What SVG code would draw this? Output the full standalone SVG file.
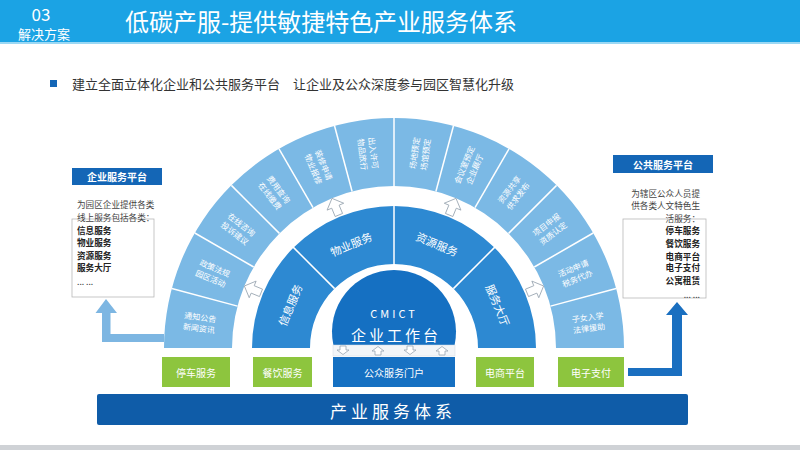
<svg xmlns="http://www.w3.org/2000/svg" width="800" height="450" viewBox="0 0 800 450">
<style>
text{font-family:"Noto Sans CJK SC","Noto Sans",sans-serif;}
.hd{fill:#fff;}
.seg{fill:#fff;font-size:8px;text-anchor:middle;dominant-baseline:central;}
.mid{fill:#fff;font-size:11px;text-anchor:middle;dominant-baseline:central;}
.div{stroke:#fff;stroke-width:1.5;}
.green{fill:#8dc53e;}
.gt{fill:#fff;font-size:10px;text-anchor:middle;dominant-baseline:central;}
.hollow{fill:#fff;stroke:#9aa6b2;stroke-width:0.8;}
.ltxt{font-size:8.6px;fill:#444;}
.lb{font-size:8.6px;fill:#222;font-weight:bold;}
.box{fill:#fff;stroke:#b8b8b8;stroke-width:0.8;}
.bh{fill:#1466b6;}
.bht{fill:#fff;font-size:10px;font-weight:bold;text-anchor:middle;dominant-baseline:central;}
</style>
<defs>
<polygon id="bigArrow" points="0,-10 9,-1 4,-1 4,8 -4,8 -4,-1 -9,-1"/>
<polygon id="smallUp" points="0,-4 6,0.5 3,0.5 3,4.5 -3,4.5 -3,0.5 -6,0.5"/>
</defs>

<!-- header -->
<g id="header">
<rect x="0" y="0" width="800" height="42" fill="#1ba3e4"/>
<rect x="0" y="42" width="800" height="2" fill="#9bd8f4"/>
<text x="41" y="21" class="hd" font-size="17" text-anchor="middle" font-family="Liberation Sans, sans-serif">03</text>
<text x="44" y="39" class="hd" font-size="13" text-anchor="middle">解决方案</text>
<text x="125" y="31" class="hd" font-size="24" textLength="392" lengthAdjust="spacingAndGlyphs">低碳产服-提供敏捷特色产业服务体系</text>
</g>

<g id="subtitle">
<rect x="50" y="80" width="7" height="7" fill="#1466b6"/>
<text x="72" y="89" font-size="13" fill="#333">建立全面立体化企业和公共服务平台　让企业及公众深度参与园区智慧化升级</text>
</g>

<!-- outer ring -->
<g id="outer-ring">
<path d="M164,348 A230,230 0 0 1 624,348 L556,348 A162,162 0 0 0 232,348 Z" fill="#7bb9e5"/>
<g class="div">
<line x1="550.5" y1="306.1" x2="616.2" y2="288.5"/>
<line x1="534.3" y1="267" x2="593.2" y2="233"/>
<line x1="508.6" y1="233.4" x2="556.6" y2="185.4"/>
<line x1="475" y1="207.7" x2="509" y2="148.8"/>
<line x1="435.9" y1="191.5" x2="453.5" y2="125.8"/>
<line x1="394" y1="186" x2="394" y2="118"/>
<line x1="352.1" y1="191.5" x2="334.5" y2="125.8"/>
<line x1="313" y1="207.7" x2="279" y2="148.8"/>
<line x1="279.4" y1="233.4" x2="231.4" y2="185.4"/>
<line x1="253.7" y1="267" x2="194.8" y2="233"/>
<line x1="237.5" y1="306.1" x2="171.8" y2="288.5"/>
</g>
<g id="seg1" transform="translate(199.7,322.4) rotate(7.5)"><text class="seg" y="-5.5">通知公告</text><text class="seg" y="5.5">新闻资讯</text></g>
<g id="seg2" transform="translate(212.9,273) rotate(22.5)"><text class="seg" y="-5.5">政策法规</text><text class="seg" y="5.5">园区活动</text></g>
<g id="seg3" transform="translate(238.5,228.7) rotate(37.5)"><text class="seg" y="-5.5">在线咨询</text><text class="seg" y="5.5">投诉建议</text></g>
<g id="seg4" transform="translate(274.7,192.5) rotate(52.5)"><text class="seg" y="-5.5">费用查询</text><text class="seg" y="5.5">在线缴费</text></g>
<g id="seg5" transform="translate(319,166.9) rotate(67.5)"><text class="seg" y="-5.5">装修申请</text><text class="seg" y="5.5">物业报修</text></g>
<g id="seg6" transform="translate(368.4,153.7) rotate(82.5)"><text class="seg" y="-5.5">出入许可</text><text class="seg" y="5.5">物品放行</text></g>
<g id="seg7" transform="translate(419.6,153.7) rotate(-82.5)"><text class="seg" y="-5.5">场地预定</text><text class="seg" y="5.5">场馆预定</text></g>
<g id="seg8" transform="translate(469,166.9) rotate(-67.5)"><text class="seg" y="-5.5">会议室预定</text><text class="seg" y="5.5">企业展厅</text></g>
<g id="seg9" transform="translate(513.3,192.5) rotate(-52.5)"><text class="seg" y="-5.5">资源共享</text><text class="seg" y="5.5">供求发布</text></g>
<g id="seg10" transform="translate(549.5,228.7) rotate(-37.5)"><text class="seg" y="-5.5">项目申报</text><text class="seg" y="5.5">资质认定</text></g>
<g id="seg11" transform="translate(575.1,273) rotate(-22.5)"><text class="seg" y="-5.5">活动申请</text><text class="seg" y="5.5">税务代办</text></g>
<g id="seg12" transform="translate(588.3,322.4) rotate(-7.5)"><text class="seg" y="-5.5">子女入学</text><text class="seg" y="5.5">法律援助</text></g>
</g>

<!-- middle ring -->
<g id="middle-ring">
<path d="M252,348 A142,142 0 0 1 536,348 L478,348 A84,84 0 0 0 310,348 Z" fill="#2d89d2"/>
<g class="div">
<line x1="453.4" y1="288.6" x2="495.1" y2="246.9"/>
<line x1="394" y1="264" x2="394" y2="205"/>
<line x1="334.6" y1="288.6" x2="292.9" y2="246.9"/>
</g>
<text class="mid" transform="translate(289.6,304.8) rotate(-67.5)">信息服务</text>
<text class="mid" transform="translate(350.8,243.6) rotate(-22.5)">物业服务</text>
<text class="mid" transform="translate(437.2,243.6) rotate(22.5)">资源服务</text>
<text class="mid" transform="translate(498.4,304.8) rotate(67.5)">服务大厅</text>
</g>

<!-- center -->
<g id="cmict">
<path d="M333.4,345 A62,62 0 1 1 454.6,345 Z" fill="#1570c2"/>
<text x="394" y="318" fill="#fff" font-size="11" text-anchor="middle" letter-spacing="3" font-family="Liberation Sans, sans-serif">CMICT</text>
<text x="396" y="341" fill="#fff" font-size="15" text-anchor="middle" letter-spacing="3">企业工作台</text>
</g>

<g id="portal">
<rect x="333" y="345" width="122" height="11" fill="#f2f5f8" stroke="#d3dae1" stroke-width="0.5"/>
<rect x="333" y="357" width="122" height="30" fill="#1570c2"/>
<text x="394" y="372" class="gt">公众服务门户</text>
</g>

<g id="tingche"><rect x="162" y="357" width="68" height="30" class="green"/><text x="196" y="372" class="gt">停车服务</text></g>
<g id="canyin"><rect x="253" y="357" width="59" height="30" class="green"/><text x="282.5" y="372" class="gt">餐饮服务</text></g>
<g id="dianshang"><rect x="476" y="357" width="58" height="30" class="green"/><text x="505" y="372" class="gt">电商平台</text></g>
<g id="zhifu"><rect x="558" y="357" width="66" height="30" class="green"/><text x="591" y="372" class="gt">电子支付</text></g>

<g id="base">
<rect x="97" y="394" width="591" height="31" rx="2" fill="#0f5ca8"/>
<text x="393" y="410" fill="#fff" font-size="17" text-anchor="middle" dominant-baseline="central" letter-spacing="4">产业服务体系</text>
</g>

<!-- left platform -->
<g id="enterprise-platform">
<rect x="72" y="168" width="90" height="17" class="bh"/>
<text x="117" y="176.5" class="bht">企业服务平台</text>
<rect x="72" y="219" width="82" height="78" class="box"/>
<text x="77" y="208" class="ltxt">为园区企业提供各类</text>
<text x="77" y="221" class="ltxt">线上服务包括各类：</text>
<text x="77" y="234" class="lb">信息服务</text>
<text x="77" y="246" class="lb">物业服务</text>
<text x="77" y="259" class="lb">资源服务</text>
<text x="77" y="271" class="lb">服务大厅</text>
<text x="77" y="285" class="ltxt">... ...</text>
</g>

<!-- right platform -->
<g id="public-platform">
<rect x="613" y="155" width="100" height="18" class="bh"/>
<text x="663" y="164" class="bht">公共服务平台</text>
<rect x="623" y="219" width="83" height="79" class="box"/>
<g text-anchor="end">
<text x="700" y="197" class="ltxt">为辖区公众人员提</text>
<text x="700" y="209" class="ltxt">供各类人文特色生</text>
<text x="700" y="222" class="ltxt">活服务：</text>
<text x="700" y="234" class="lb">停车服务</text>
<text x="700" y="247" class="lb">餐饮服务</text>
<text x="700" y="260" class="lb">电商平台</text>
<text x="700" y="271" class="lb">电子支付</text>
<text x="700" y="284" class="lb">公寓租赁</text>
<text x="700" y="298" class="ltxt">... ...</text>
</g>
</g>

<!-- connectors -->
<g id="connectors">
<polygon points="106,299 117,313 110.5,313 110.5,334 164,334 164,342 102,342 102,313 95.5,313" fill="#7db6e2"/>
<polygon points="628,368 672,368 672,315 666,315 677,302 688,315 682,315 682,376 628,376" fill="#1a6fc0"/>
<use href="#bigArrow" class="hollow" transform="translate(253.6,289.8) rotate(-67.5)"/>
<use href="#bigArrow" class="hollow" transform="translate(335.8,207.6) rotate(-22.5)"/>
<use href="#bigArrow" class="hollow" transform="translate(452.2,207.6) rotate(22.5)"/>
<use href="#bigArrow" class="hollow" transform="translate(534.4,289.8) rotate(67.5)"/>
<use href="#smallUp" class="hollow" transform="translate(343,350.5) rotate(180)"/>
<use href="#smallUp" class="hollow" transform="translate(378,350.5)"/>
<use href="#smallUp" class="hollow" transform="translate(410,350.5) rotate(180)"/>
<use href="#smallUp" class="hollow" transform="translate(442,350.5)"/>
</g>

<rect x="0" y="445" width="800" height="5" fill="#cfd2d6"/>
</svg>
